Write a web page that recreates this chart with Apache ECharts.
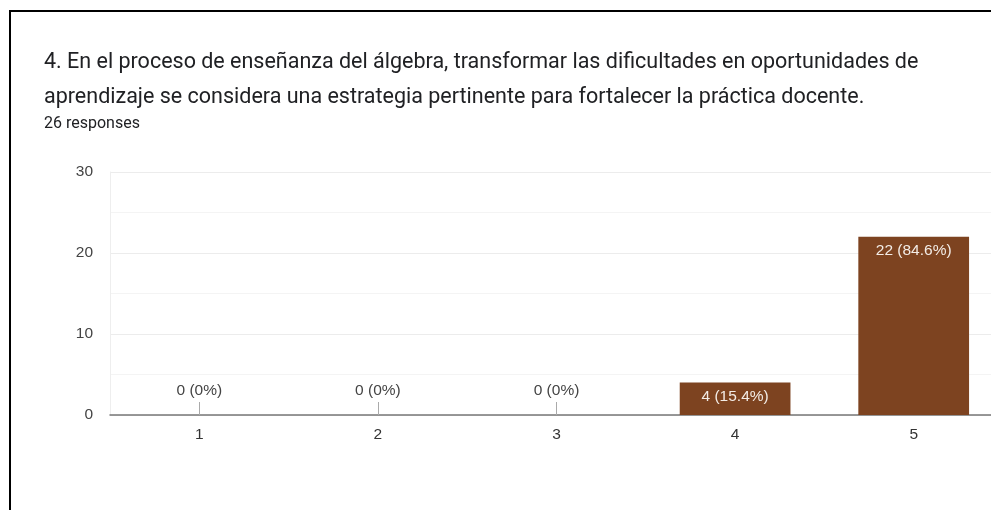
<!DOCTYPE html>
<html lang="es">
<head>
<meta charset="UTF-8">
<title>Respuestas pregunta 4</title>
<script src="https://cdn.jsdelivr.net/npm/echarts@6/dist/echarts.min.js"></script>
<style>
    html, body { margin: 0; padding: 0; background: #fff; }
    #frame {
        position: absolute; left: 9px; top: 10px; width: 982px; height: 500px;
        border-top: 2px solid #000; border-left: 2px solid #000; box-sizing: border-box;
    }
    #container { position: absolute; left: 0; top: 0; width: 991px; height: 510px; }
</style>
</head>
<body>
<div id="container"></div>
<div id="frame"></div>
<script type="text/javascript">
    // datos
    const categories = ['1', '2', '3', '4', '5'];
    const counts = [0, 0, 0, 4, 22];
    const percents = ['0%', '0%', '0%', '15.4%', '84.6%'];
    const yTicks = [0, 10, 20, 30];

    const barColor = '#7d4320';
    const chartFont = '"Liberation Sans", Arial, sans-serif';

    const myChart = echarts.init(document.getElementById('container'), null, { renderer: 'canvas' });

    const seriesData = counts.map(function (v, i) {
        const item = { value: v };
        if (v === 0) {
            item.label = { position: 'top', distance: 16, color: '#444' };
        } else {
            item.label = { position: 'insideTop', distance: 6, color: '#f3ece6' };
        }
        return item;
    });

    const option = {
        animation: false,
        textStyle: { fontFamily: chartFont },
        title: [
            {
                text: '4. En el proceso de enseñanza del álgebra, transformar las dificultades en oportunidades de\naprendizaje se considera una estrategia pertinente para fortalecer la práctica docente.',
                left: 44 - 5,
                top: 45 - 5,
                textStyle: { fontSize: 21.5, fontWeight: 'normal', color: '#202124', lineHeight: 35, fontFamily: 'Roboto' }
            },
            {
                text: '26 responses',
                left: 44 - 5,
                top: 116 - 5,
                textStyle: { fontSize: 16, fontWeight: 'normal', color: '#202124', fontFamily: 'Roboto' }
            }
        ],
        grid: { left: 110, top: 172, width: 893, height: 243, outerBoundsMode: 'none', containLabel: false },
        xAxis: {
            type: 'category',
            data: categories,
            axisLine: { lineStyle: { color: '#777', width: 1.5 } },
            axisTick: { show: true, inside: true, alignWithLabel: true, length: 13, lineStyle: { color: '#aaa' } },
            axisLabel: { color: '#333', fontSize: 15.5, fontFamily: chartFont, margin: 12 }
        },
        yAxis: {
            type: 'value',
            min: 0,
            max: 30,
            interval: 10,
            axisLine: { show: true, lineStyle: { color: '#eee' } },
            axisTick: { show: false },
            axisLabel: {
                color: '#444', fontSize: 15.5, fontFamily: chartFont, margin: 17,
                formatter: function (v) { return yTicks.indexOf(v) >= 0 ? String(v) : ''; }
            },
            splitLine: { lineStyle: { color: '#ececec' } },
            minorTick: { show: false, splitNumber: 2 },
            minorSplitLine: { show: true, lineStyle: { color: '#f4f4f4' } }
        },
        series: [
            {
                type: 'bar',
                data: seriesData,
                barWidth: '62%',
                itemStyle: { color: barColor },
                label: {
                    show: true,
                    fontSize: 15.5,
                    fontFamily: chartFont,
                    formatter: function (p) { return p.value + ' (' + percents[p.dataIndex] + ')'; }
                }
            }
        ]
    };

    myChart.setOption(option);
    window.addEventListener('resize', myChart.resize);
</script>
</body>
</html>
